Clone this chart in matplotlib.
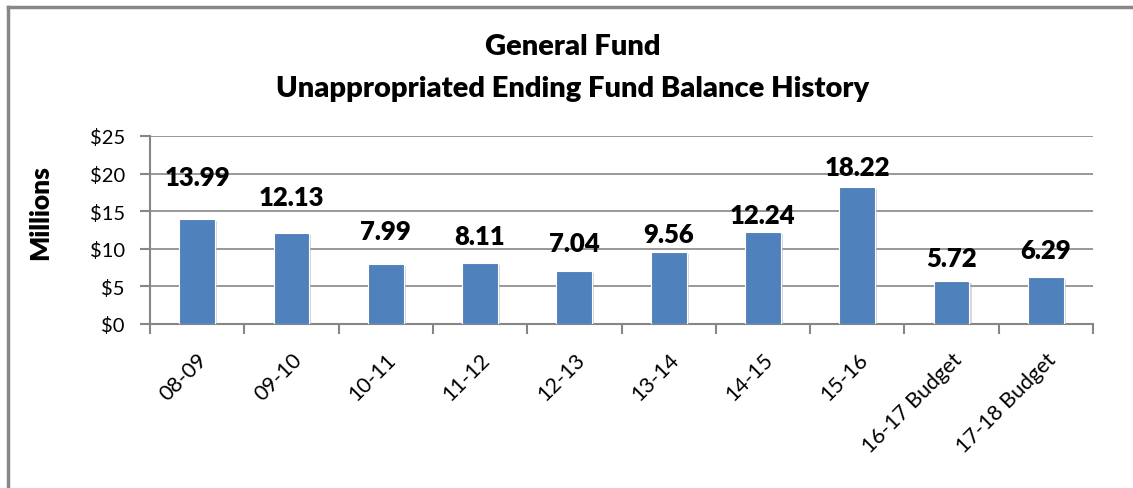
import matplotlib
matplotlib.use("Agg")
import matplotlib.pyplot as plt
import matplotlib.patheffects as pe
from matplotlib.lines import Line2D

plt.rcParams["font.family"] = ["Lato", "DejaVu Sans"]

# data
years = ["08-09", "09-10", "10-11", "11-12", "12-13", "13-14", "14-15", "15-16",
         "16-17 Budget", "17-18 Budget"]
balance = [13.99, 12.13, 7.99, 8.11, 7.04, 9.56, 12.24, 18.22, 5.72, 6.29]
yticks = [0, 5, 10, 15, 20, 25]

# label lift above each bar (the labels were dragged around by hand in the original)
label_gap = [5.5, 4.7, 4.35, 3.55, 3.75, 2.45, 2.2, 2.6, 3.0, 3.6]

BLUE = "#4F81BD"
GRID = "#868686"
HEAVY = 800

fig = plt.figure(figsize=(11.33, 4.89), dpi=100)
ax = fig.add_axes([150 / 1133, 164 / 489, 943 / 1133, 188 / 489])

x = range(len(years))
bars = ax.bar(x, balance, width=0.38, color=BLUE, edgecolor="white", linewidth=0.8,
              zorder=3)
for b in bars:
    b.set_path_effects([pe.SimplePatchShadow(offset=(1.5, -1.5), shadow_rgbFace="#b0b0b0",
                                             alpha=0.5), pe.Normal()])

for i, v in enumerate(balance):
    ax.text(i, v + label_gap[i], f"{v:.2f}", ha="center", va="center",
            fontsize=18.5, fontweight=HEAVY, color="black", zorder=4)

ax.set_xlim(-0.5, len(years) - 0.5)
ax.set_ylim(0, 25)
ax.set_yticks(yticks)
ax.set_yticklabels([f"${t}" for t in yticks])
ax.yaxis.grid(True, color=GRID, linewidth=1.2, zorder=0)
ax.set_axisbelow(True)

ax.set_xticks(list(x))
ax.set_xticklabels(years, rotation=45, ha="right", va="top", rotation_mode="anchor")
ax.set_xticks([i - 0.5 for i in range(len(years) + 1)], minor=True)
ax.tick_params(axis="x", which="major", length=0, pad=18, labelsize=15.5)
ax.tick_params(axis="x", which="minor", length=7, width=1.5, color=GRID, direction="out")
ax.tick_params(axis="y", length=7, width=1.5, color=GRID, labelsize=14.5, pad=11)

for s in ("top", "right"):
    ax.spines[s].set_visible(False)
for s in ("left", "bottom"):
    ax.spines[s].set_color(GRID)
    ax.spines[s].set_linewidth(1.5)

fig.text(573 / 1133, 1 - 47 / 489, "General Fund", ha="center", va="center",
         fontsize=21, fontweight=HEAVY)
fig.text(573 / 1133, 1 - 89 / 489, "Unappropriated Ending Fund Balance History",
         ha="center", va="center", fontsize=21, fontweight=HEAVY)
fig.text(40 / 1133, 1 - 213 / 489, "Millions", rotation=90, ha="center", va="center",
         fontsize=19, fontweight=HEAVY)

# outer chart frame (only left and top edges are visible in the crop)
fig.add_artist(Line2D([8 / 1133, 8 / 1133], [0, 1 - 8 / 489], transform=fig.transFigure,
                      color="#888888", linewidth=2.5))
fig.add_artist(Line2D([8 / 1133, 1], [1 - 8 / 489, 1 - 8 / 489], transform=fig.transFigure,
                      color="#888888", linewidth=2.5))

fig.savefig("out.png", dpi=100)
plt.close(fig)
